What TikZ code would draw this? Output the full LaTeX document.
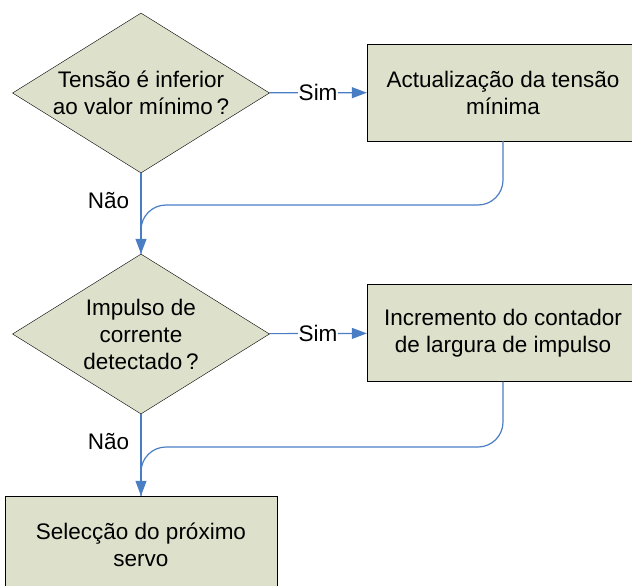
\documentclass[tikz,border=0pt]{standalone}
\usepackage{fontspec}
\setmainfont{Liberation Sans}
\usetikzlibrary{arrows.meta,positioning,shapes}
\definecolor{caixa}{RGB}{221,224,203}
\definecolor{linha}{RGB}{74,126,196}

\begin{document}
\begin{tikzpicture}[x=1pt,y=-1pt,every node/.style={font=\fontsize{22.5}{27}\selectfont}]
  \tikzstyle{Decisao}=[diamond, draw, fill=caixa, inner sep=0pt, aspect=1.6, minimum width=257pt, minimum height=160pt, align=center]
  \tikzstyle{Bloco}=[rectangle, draw, fill=caixa, minimum width=272pt, minimum height=97pt, align=center]
  \tikzstyle{Liga}=[draw=linha, line width=1.2pt, -{Triangle[length=15pt,width=11pt]}]
  \tikzstyle{Volta}=[draw=linha, line width=1.2pt, rounded corners=25pt]
  \clip (0,0) rectangle (632,586);

  \node[Decisao] (tensao) at (141,93) {Tensão é inferior\\ao valor mínimo\,?};
  \node[Bloco] (actual) at (503,92.5) {Actualização da tensão\\mínima};
  \node[Decisao] (impulso) at (141,334) {Impulso de\\corrente\\detectado\,?};
  \node[Bloco] (incremento) at (503,333) {Incremento do contador\\de largura de impulso};
  \node[Bloco] (seleccao) at (141,544.5) {Selecção do próximo\\servo};
  \coordinate (j1) at (141,205);
  \coordinate (j2) at (141,447);

  \draw[Liga] (tensao) -- node[fill=white,inner sep=1pt] {Sim} (actual);
  \draw[Liga] (tensao) -- node[pos=0.34,left=8pt] {Não} (impulso);
  \draw[Volta] (actual.south) |- (j1) -- (impulso.north);
  \draw[Liga] (impulso) -- node[fill=white,inner sep=1pt] {Sim} (incremento);
  \draw[Liga] (impulso) -- node[pos=0.34,left=8pt] {Não} (seleccao);
  \draw[Volta] (incremento.south) |- (j2) -- (seleccao.north);
\end{tikzpicture}
\end{document}
